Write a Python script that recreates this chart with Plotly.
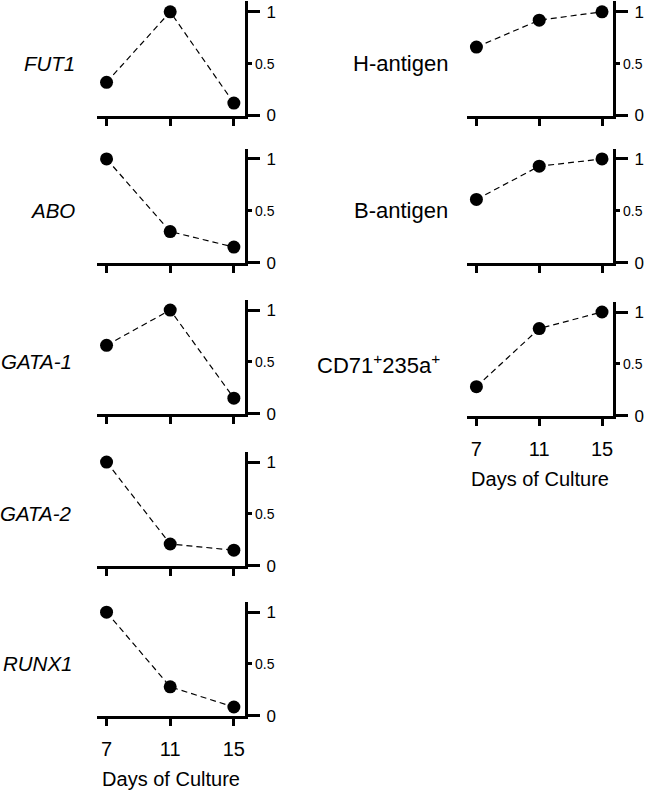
import plotly.graph_objects as go

days = [7, 11, 15]
left_names = ["<i>FUT1</i>", "<i>ABO</i>", "<i>GATA-1</i>", "<i>GATA-2</i>", "<i>RUNX1</i>"]
fut1 = [0.32, 1.0, 0.12]
abo = [1.0, 0.30, 0.15]
gata1 = [0.66, 1.0, 0.15]
gata2 = [1.0, 0.21, 0.15]
runx1 = [1.0, 0.28, 0.085]
right_names = ["H-antigen", "B-antigen", "CD71<sup>+</sup>235a<sup>+</sup>"]
h_antigen = [0.66, 0.92, 1.0]
b_antigen = [0.61, 0.93, 1.0]
cd71 = [0.28, 0.84, 1.0]
y_major = [0, 1]
y_major_text = ["0", "1"]
y_minor = [0.5]
y_minor_text = "0.5"
x_title = "Days of Culture"

W, H = 646, 791
FONT = "Liberation Sans, Arial, sans-serif"
SCALE = 105.0  # px per unit
YTOP = 1.1

panels = [
    # (name, values, col, zero_px, bottom, label_right_px, label_size)
    (left_names[0], fut1, 0, 117, False, 77, 20.5),
    (left_names[1], abo, 0, 266, False, 77, 20.5),
    (left_names[2], gata1, 0, 419, False, 74, 20.5),
    (left_names[3], gata2, 0, 573, False, 74, 20.5),
    (left_names[4], runx1, 0, 725, True, 75, 20.5),
    (right_names[0], h_antigen, 1, 117, False, 450, 22),
    (right_names[1], b_antigen, 1, 266, False, 450, 22),
    (right_names[2], cd71, 1, 421, True, 442, 22),
]
col_x = {0: (97, 245), 1: (467, 613)}

fig = go.Figure()
annotations = []
layout = {}
for i, (name, vals, col, zero, bottom, lab_r, lab_size) in enumerate(panels):
    k = "" if i == 0 else str(i + 1)
    xa, ya = "x" + k, "y" + k
    fig.add_trace(go.Scatter(
        x=days, y=vals, xaxis=xa, yaxis=ya, mode="lines+markers",
        line=dict(color="black", width=1.2, dash="6px,4px"),
        marker=dict(color="black", size=13),
        cliponaxis=False, showlegend=False, hoverinfo="skip"))
    x0, x1 = col_x[col]
    top = zero - YTOP * SCALE
    layout["xaxis" + k] = dict(
        domain=[x0 / W, x1 / W], range=[6.4, 15.7], anchor=ya,
        tickvals=days, ticktext=[str(d) for d in days], ticks="outside", ticklen=7, tickwidth=2.5,
        tickcolor="black", showline=True, linewidth=3, linecolor="black",
        showgrid=False, zeroline=False, showticklabels=bottom, ticklabelstandoff=6,
        tickfont=dict(family=FONT, size=20, color="black"),
        title=dict(text=x_title if bottom else "", font=dict(family=FONT, size=20, color="black"), standoff=14),
        fixedrange=True)
    layout["yaxis" + k] = dict(
        domain=[1 - zero / H, 1 - top / H], range=[0, YTOP], anchor=xa, side="right",
        tickvals=y_major, ticktext=y_major_text, ticks="outside", ticklen=12, tickwidth=2.5,
        tickcolor="black", showline=True, linewidth=3, linecolor="black",
        showgrid=False, zeroline=False, ticklabelstandoff=3,
        minor=dict(tickvals=y_minor, ticks="outside", ticklen=4, tickwidth=2.5,
                   tickcolor="black", showgrid=False),
        tickfont=dict(family=FONT, size=17, color="black"), fixedrange=True)
    annotations.append(dict(
        text=name, xref="paper", yref=ya, x=lab_r / W, y=0.5, xanchor="right", yanchor="middle",
        showarrow=False, font=dict(family=FONT, size=lab_size, color="black")))
    annotations.append(dict(
        text=y_minor_text, xref="paper", yref=ya, x=(x1 + 8) / W, y=y_minor[0],
        xanchor="left", yanchor="middle", showarrow=False,
        font=dict(family=FONT, size=14, color="black")))

fig.update_layout(
    width=W, height=H, margin=dict(l=0, r=0, t=0, b=0),
    paper_bgcolor="white", plot_bgcolor="white",
    annotations=annotations, **layout)
fig.write_html("out.html", config={"displayModeBar": False},
               post_script="document.body.style.margin='0';document.body.style.overflow='hidden';")
